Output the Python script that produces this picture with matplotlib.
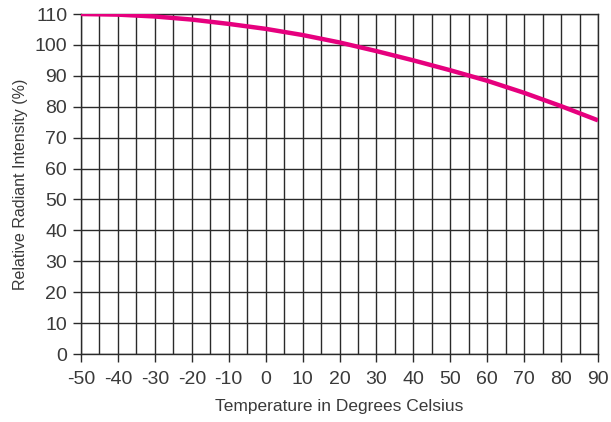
import numpy as np
import matplotlib.pyplot as plt

# curve, every 10 degrees
temp_c = [-50, -40, -30, -20, -10, 0, 10, 20, 30, 40, 50, 60, 70, 80, 90]
intensity = [110.0, 109.8, 109.2, 108.2, 106.8, 105.2, 103.2, 100.8,
             98.0, 95.0, 91.8, 88.4, 84.5, 80.2, 75.6]

x_ticks = list(range(-50, 91, 10))
y_ticks = list(range(0, 111, 10))

plt.rcParams['font.family'] = ['Liberation Sans', 'DejaVu Sans']
text_col = '#3a3a3a'
grid_col = '#2a2a2a'

fig = plt.figure(figsize=(6.11, 4.22), dpi=100)
ax = fig.add_axes([0.1326, 0.1611, 0.9787 - 0.1326, 0.9668 - 0.1611])

# grid: vertical every 5, horizontal every 10
for xv in np.arange(-50, 91, 5):
    ax.axvline(xv, color=grid_col, lw=1.0, zorder=1)
for yv in y_ticks:
    ax.axhline(yv, color=grid_col, lw=1.0, zorder=1)

ax.plot(temp_c, intensity, color='#E6007E', lw=3.2, solid_capstyle='butt', zorder=3)

ax.set_xlim(-50, 90)
ax.set_ylim(0, 110)
ax.set_xticks(x_ticks)
ax.set_yticks(y_ticks)
ax.set_xticklabels([str(v) for v in x_ticks])
ax.tick_params(axis='both', direction='out', length=6, width=1.0, color=grid_col,
               labelsize=14, labelcolor=text_col, pad=4)
ax.tick_params(axis='x', pad=6)
for s in ax.spines.values():
    s.set_color(grid_col)
    s.set_linewidth(1.0)

ax.set_xlabel('Temperature in Degrees Celsius', fontsize=12.5, color=text_col, labelpad=8)
ax.set_ylabel('Relative Radiant Intensity (%)', fontsize=11.5, color=text_col, labelpad=5)

fig.savefig('out.png', dpi=100)
